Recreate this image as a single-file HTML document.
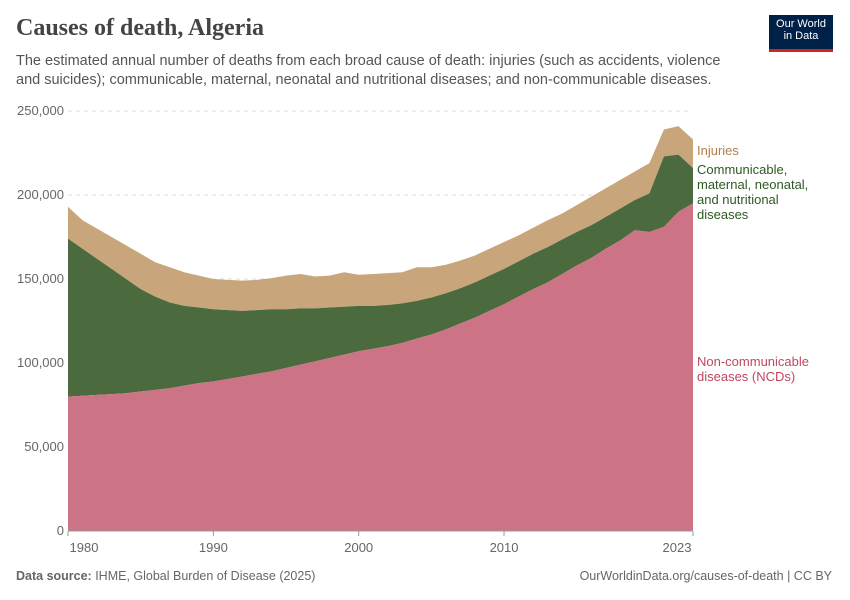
<!DOCTYPE html>
<html><head><meta charset="utf-8">
<style>
body{margin:0;background:#fff;font-family:"Liberation Sans",sans-serif;}
#wrap{position:relative;width:850px;height:600px;overflow:hidden;}
.title{position:absolute;left:16px;top:15px;font-family:"Liberation Serif",serif;font-size:24px;font-weight:bold;color:#444;}
.sub{position:absolute;left:16px;top:52px;width:720px;font-size:14.5px;line-height:19px;color:#555;}
.logo{position:absolute;left:769px;top:15px;width:64px;height:37px;background:#002147;color:#fff;font-size:11px;line-height:12px;text-align:center;padding-top:3px;box-sizing:border-box;border-bottom:3px solid #ce261e;}
.foot{position:absolute;top:569px;font-size:12.5px;color:#666;}
</style></head><body>
<div id="wrap">
<div class="title">Causes of death, Algeria</div>
<div class="sub">The estimated annual number of deaths from each broad cause of death: injuries (such as accidents, violence and suicides); communicable, maternal, neonatal and nutritional diseases; and non-communicable diseases.</div>
<div class="logo">Our World<br>in Data</div>
<svg id="chart" width="850" height="600" style="position:absolute;left:0;top:0"></svg>
<div class="foot" style="left:16px"><b>Data source:</b> IHME, Global Burden of Disease (2025)</div>
<div class="foot" style="right:18px">OurWorldinData.org/causes-of-death | CC BY</div>
</div>
<script>
const years=[1980,1981,1982,1983,1984,1985,1986,1987,1988,1989,1990,1991,1992,1993,1994,1995,1996,1997,1998,1999,2000,2001,2002,2003,2004,2005,2006,2007,2008,2009,2010,2011,2012,2013,2014,2015,2016,2017,2018,2019,2020,2021,2022,2023];
const ncd=[80,80.5,81,81.5,82,83,84,85,86.5,88,89,90.5,92,93.5,95,97,99,101,103,105,107,108.5,110,112,114.5,117,120,123.5,127,131,135,139.5,144,148,153,158,162.5,168,173,179,178,181,190,195];
const communicable=[94,87.5,81,74.5,68,61,55.5,51,47.5,45,43,41,39,38,37,35,33.5,31.5,30,28.5,27,25.5,24.5,23.5,22.5,22,21.5,21,21,21,21,21,21,21,20.5,20,19.5,19,19,18,23,42,34,21];
const injuries=[19,17,18,19,20,21,20.5,21,20,19,18,18,18,18,18.5,20,20.5,19,19,20.5,18.5,19,19,18.5,20,18,17,16.5,16,16,16,15.5,15.5,16,15.5,16,17,17,17,17,18,16,17,17];
const yTicks=[0,50000,100000,150000,200000,250000];
const xTicks=[1980,1990,2000,2010,2023];
const svg=document.getElementById('chart');
const NS='http://www.w3.org/2000/svg';
const x=y=>68+(y-1980)*(625/43);
const yS=v=>531-v/250000*420;
function mk(t,a){const e=document.createElementNS(NS,t);for(const k in a)e.setAttribute(k,a[k]);svg.appendChild(e);return e;}
yTicks.forEach(v=>{
 if(v>0){const l=mk('line',{x1:68,x2:692,y1:yS(v),y2:yS(v),stroke:'#ddd','stroke-dasharray':'4,4'});
 
 }
 const t=mk('text',{x:64,y:yS(v)+4,'text-anchor':'end','font-size':13,fill:'#666','font-family':'Liberation Sans'});
 t.textContent=v.toLocaleString('en-US');
 
 
});
const l1=ncd, l2=ncd.map((v,i)=>v+communicable[i]), l3=l2.map((v,i)=>v+injuries[i]);
function area(top,bot,fill,name){
 let d='M'+years.map((y,i)=>x(y)+','+yS(top[i]*1000)).join('L');
 for(let i=years.length-1;i>=0;i--)d+='L'+x(years[i])+','+yS(bot?bot[i]*1000:0);
 const p=mk('path',{d:d+'Z',fill:fill});
 
 
}
area(l3,l2,'#c9a57b','injuries-area');
area(l2,l1,'#4b6b3e','communicable-area');
area(l1,null,'#cc7385','ncd-area');
const ax=mk('line',{x1:68,x2:692,y1:531,y2:531,stroke:'#999'});


xTicks.forEach(yr=>{
 const tk=mk('line',{x1:x(yr),x2:x(yr),y1:531,y2:536,stroke:'#999'});
 
 
 let px=x(yr); if(yr===1980)px=84; if(yr===2023)px=677;
 const t=mk('text',{x:px,y:552,'text-anchor':'middle','font-size':13,fill:'#666','font-family':'Liberation Sans'});
 t.textContent=yr;
 
 
});
function lab(lines,y0,color,name){
 const t=mk('text',{x:697,y:y0,'font-size':13,fill:color,'font-family':'Liberation Sans'});
 lines.forEach((s,i)=>{const ts=document.createElementNS(NS,'tspan');ts.setAttribute('x',697);ts.setAttribute('dy',i?15:0);ts.textContent=s;t.appendChild(ts);});
 
 
}
lab(['Injuries'],155,'#b07f4c','legend-injuries');
lab(['Communicable,','maternal, neonatal,','and nutritional','diseases'],174,'#2d5a22','legend-communicable');
lab(['Non-communicable','diseases (NCDs)'],366,'#c0485e','legend-ncd');
</script>
</body></html>
